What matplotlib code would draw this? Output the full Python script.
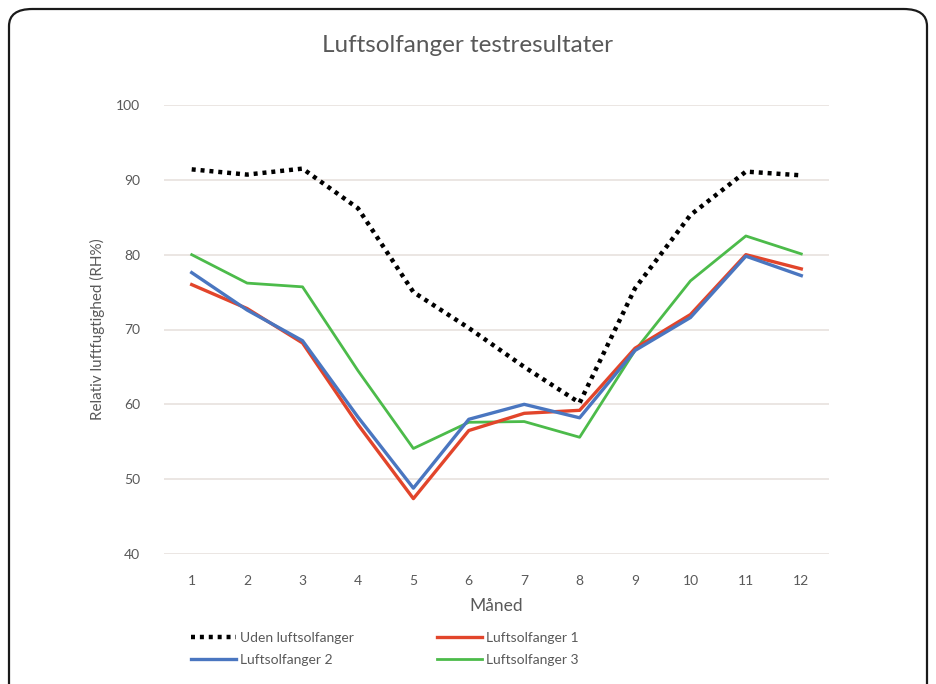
import numpy as np
import matplotlib.pyplot as plt
from matplotlib.patches import FancyBboxPatch

plt.rcParams['font.family'] = ['Lato', 'DejaVu Sans']

# -- data ----------------------
maaned = list(range(1, 13))
uden = [91.4, 90.7, 91.5, 86.2, 75.0, 70.2, 65.0, 60.2, 75.5, 85.3, 91.1, 90.6]
luft1 = [76.0, 72.8, 68.2, 57.3, 47.4, 56.5, 58.8, 59.2, 67.5, 72.0, 80.0, 78.1]
luft2 = [77.6, 72.6, 68.5, 58.3, 48.8, 58.0, 60.0, 58.2, 67.2, 71.6, 79.8, 77.2]
luft3 = [80.0, 76.2, 75.7, 64.5, 54.1, 57.6, 57.7, 55.6, 67.2, 76.5, 82.5, 80.1]

grey = '#595959'

fig = plt.figure(figsize=(9.36, 6.84), dpi=100)

# rounded frame round the whole chart, open at the bottom edge
frame = FancyBboxPatch((9 / 936, -0.05), 918 / 936, 1 - 9 / 684 + 0.05,
                       boxstyle='round,pad=0,rounding_size=0.025',
                       transform=fig.transFigure, facecolor='none',
                       edgecolor='#1a1a1a', linewidth=1.6, zorder=10)
fig.patches.append(frame)

ax = fig.add_axes([164 / 936, 1 - 554 / 684, (829 - 164) / 936, (554 - 105) / 684])

ax.plot(maaned, uden, color='black', lw=3.2, linestyle=(0, (0.9, 1.1)),
        label='Uden luftsolfanger', zorder=4)
ax.plot(maaned, luft1, color='#e2452b', lw=2.4, label='Luftsolfanger 1', zorder=3)
ax.plot(maaned, luft2, color='#4a76c0', lw=2.4, label='Luftsolfanger 2', zorder=3)
ax.plot(maaned, luft3, color='#4cbb4a', lw=2.0, label='Luftsolfanger 3', zorder=2)

ax.set_xlim(0.5, 12.5)
ax.set_ylim(40, 100)
ax.set_yticks(np.arange(40, 101, 10))
ax.set_xticks(maaned)
ax.grid(axis='y', color='#e8e2de', lw=1.2)
ax.set_axisbelow(True)
for s in ax.spines.values():
    s.set_visible(False)
ax.tick_params(length=0, colors=grey, labelsize=10)
ax.tick_params(axis='y', pad=17)
ax.tick_params(axis='x', pad=15)

ax.set_xlabel('Måned', color=grey, fontsize=12.5, labelpad=8)
ax.set_ylabel('Relativ luftfugtighed (RH%)', color=grey, fontsize=11, labelpad=8)
fig.text(0.5, 1 - 45 / 684, 'Luftsolfanger testresultater', ha='center',
         va='center', color=grey, fontsize=17.5)

h, l = ax.get_legend_handles_labels()
order = [0, 2, 1, 3]
fig.legend([h[i] for i in order], [l[i] for i in order], ncol=2,
           loc='center', bbox_to_anchor=(385 / 936, 1 - 649 / 684),
           frameon=False, fontsize=10, labelcolor=grey, handlelength=3.2,
           handletextpad=0.3, columnspacing=6, labelspacing=0.75)

fig.savefig('out.png', dpi=100, facecolor='white')
